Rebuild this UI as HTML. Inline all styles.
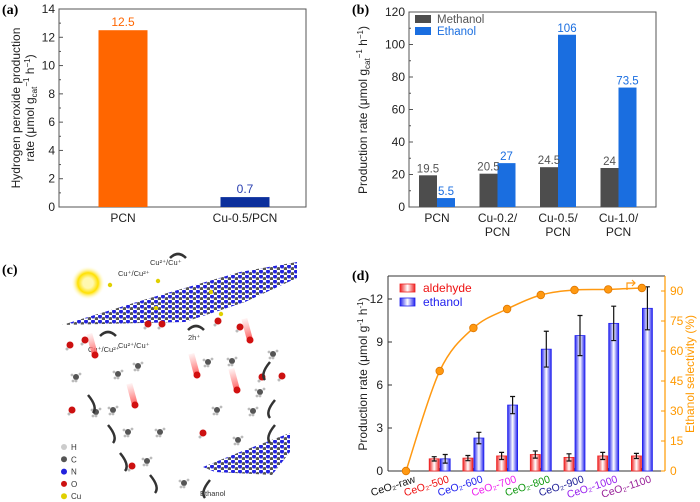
<!DOCTYPE html>
<html><head><meta charset="utf-8"><style>
body{margin:0;background:#fff;}
svg{display:block;font-family:"Liberation Sans",sans-serif;}
.pl{font-family:"Liberation Serif",serif;font-weight:bold;font-size:14px;}
</style></head><body>
<svg id="fig" width="700" height="502" viewBox="0 0 700 502" xmlns="http://www.w3.org/2000/svg">
<defs>
<linearGradient id="gr" x1="0" x2="1" y1="0" y2="0"><stop offset="0" stop-color="#ee2222"/><stop offset="0.5" stop-color="#fff"/><stop offset="1" stop-color="#ee2222"/></linearGradient>
<linearGradient id="gb" x1="0" x2="1" y1="0" y2="0"><stop offset="0" stop-color="#2222ee"/><stop offset="0.5" stop-color="#fff"/><stop offset="1" stop-color="#2222ee"/></linearGradient>
<radialGradient id="sun"><stop offset="0.3" stop-color="#fff8b0"/><stop offset="0.6" stop-color="#ffe000"/><stop offset="1" stop-color="#fff" stop-opacity="0"/></radialGradient>
<pattern id="sheet" width="7" height="5" patternUnits="userSpaceOnUse"><rect width="7" height="5" fill="#fff"/><circle cx="2" cy="1.5" r="2" fill="#2222dd"/><circle cx="5.5" cy="3.8" r="1.8" fill="#555"/></pattern>
<linearGradient id="beam" x1="0" x2="0" y1="0" y2="1"><stop offset="0" stop-color="#ff8a8a" stop-opacity="0.1"/><stop offset="1" stop-color="#ff6b6b"/></linearGradient>
</defs>
<g id="pa"></g>
<g id="pb"></g>
<g id="pc"></g>
<g id="pd"></g>
</svg>
<script>
// Panel A data
const aCats = ["PCN", "Cu-0.5/PCN"];
const aVals = [12.5, 0.7];
const aLabels = ["12.5", "0.7"];
const aTicks = [0, 2, 4, 6, 8, 10, 12, 14];
// Panel B data
const bCats = [["PCN"], ["Cu-0.2/", "PCN"], ["Cu-0.5/", "PCN"], ["Cu-1.0/", "PCN"]];
const bMethanol = [19.5, 20.5, 24.5, 24];
const bEthanol = [5.5, 27, 106, 73.5];
const bMethLabels = ["19.5", "20.5", "24.5", "24"];
const bEthLabels = ["5.5", "27", "106", "73.5"];
const bTicks = [0, 20, 40, 60, 80, 100, 120];
// Panel D data
const dCats = ["CeO₂-raw", "CeO₂-500", "CeO₂-600", "CeO₂-700", "CeO₂-800", "CeO₂-900", "CeO₂-1000", "CeO₂-1100"];
const dAldehyde = [0, 0.85, 0.9, 1.05, 1.15, 0.95, 1.05, 1.05];
const dAldErr = [0, 0.15, 0.18, 0.25, 0.25, 0.25, 0.25, 0.18];
const dEthanol = [0, 0.85, 2.3, 4.6, 8.5, 9.45, 10.3, 11.35];
const dEthErr = [0, 0.3, 0.4, 0.6, 1.25, 1.4, 1.2, 1.5];
const dSelect = [0, 50, 71.5, 81, 88, 90.5, 90.8, 91.5];
const dLeftTicks = [0, 3, 6, 9, 12];
const dRightTicks = [0, 15, 30, 45, 60, 75, 90];

const NS = "http://www.w3.org/2000/svg";
function mk(parent, tag, attrs, text) {
  const e = document.createElementNS(NS, tag);
  for (const k in attrs) e.setAttribute(k, attrs[k]);
  if (text !== undefined) e.textContent = text;
  parent.appendChild(e);
  return e;
}

// ---------- Panel A ----------
(function () {
  const g = document.getElementById('pa');
  const x0 = 59, x1 = 306, yTop = 9, yBot = 207;
  const y = v => yBot - v / 14 * (yBot - yTop);
  const cx = i => [123, 245][i];
  let t = mk(g, 'text', {x: 2, y: 14, class: 'pl'}, '(a)');
  
  
  const box = mk(g, 'rect', {x: x0, y: yTop, width: x1 - x0, height: yBot - yTop, fill: 'none', stroke: '#555', 'stroke-width': 1});
  
  
  for (let v = 0; v <= 14; v++) {
    mk(g, 'line', {x1: x0, x2: x0 + (v % 2 ? 2 : 4), y1: y(v), y2: y(v), stroke: '#555'});
  }
  aTicks.forEach(v => {
    const tl = mk(g, 'text', {x: x0 - 4, y: y(v) + 4, 'text-anchor': 'end', 'font-size': 12, fill: '#222'}, String(v));
    
    
  });
  const cols = ['#ff6600', '#0b2f9c'];
  aVals.forEach((v, i) => {
    const b = mk(g, 'rect', {x: cx(i) - 24.5, y: y(v), width: 49, height: yBot - y(v), fill: cols[i]});
    
    
    const vl = mk(g, 'text', {x: cx(i), y: y(v) - 4, 'text-anchor': 'middle', 'font-size': 12, fill: i ? '#2a3fb0' : '#ff6600'}, aLabels[i]);
    
    
    const xl = mk(g, 'text', {x: cx(i), y: 222, 'text-anchor': 'middle', 'font-size': 12, fill: '#222'}, aCats[i]);
    
    
  });
  const yt = mk(g, 'text', {transform: 'translate(20,108) rotate(-90)', 'text-anchor': 'middle', 'font-size': 12, fill: '#222'}, 'Hydrogen peroxide production');
  
  
  const yt2 = mk(g, 'text', {transform: 'translate(34,108) rotate(-90)', 'text-anchor': 'middle', 'font-size': 12, fill: '#222'});
  yt2.innerHTML = 'rate (μmol g<tspan font-size="8" dy="3">cat</tspan><tspan font-size="8" dy="-8">−1</tspan><tspan dy="5"> h</tspan><tspan font-size="8" dy="-4">−1</tspan><tspan dy="4">)</tspan>';
  
  
})();

// ---------- Panel B ----------
(function () {
  const g = document.getElementById('pb');
  const x0 = 409, x1 = 656, yTop = 12, yBot = 207;
  const y = v => yBot - v / 120 * (yBot - yTop);
  const cx = i => 437 + i * 60.5;
  const bw = 18;
  let t = mk(g, 'text', {x: 352, y: 14, class: 'pl'}, '(b)');
  
  
  const box = mk(g, 'rect', {x: x0, y: yTop, width: x1 - x0, height: yBot - yTop, fill: 'none', stroke: '#555'});
  
  
  for (let v = 0; v <= 120; v += 10) mk(g, 'line', {x1: x0, x2: x0 + (v % 20 ? 2 : 4), y1: y(v), y2: y(v), stroke: '#555'});
  bTicks.forEach(v => {
    const tl = mk(g, 'text', {x: x0 - 4, y: y(v) + 4, 'text-anchor': 'end', 'font-size': 12, fill: '#222'}, String(v));
    
    
  });
  bCats.forEach((c, i) => {
    const m = mk(g, 'rect', {x: cx(i) - bw, y: y(bMethanol[i]), width: bw, height: yBot - y(bMethanol[i]), fill: '#4d4d4d'});
    
    
    const e = mk(g, 'rect', {x: cx(i), y: y(bEthanol[i]), width: bw, height: yBot - y(bEthanol[i]), fill: '#1a6ee0'});
    
    
    const ml = mk(g, 'text', {x: cx(i) - bw / 2, y: y(bMethanol[i]) - 3, 'text-anchor': 'middle', 'font-size': 11.5, fill: '#555'}, bMethLabels[i]);
    
    
    const el = mk(g, 'text', {x: cx(i) + bw / 2, y: y(bEthanol[i]) - 3, 'text-anchor': 'middle', 'font-size': 11.5, fill: '#1a6ee0'}, bEthLabels[i]);
    
    
    c.forEach((line, k) => {
      const xl = mk(g, 'text', {x: cx(i), y: 222 + k * 14, 'text-anchor': 'middle', 'font-size': 12, fill: '#222'}, line);
      
      
    });
  });
  [['Methanol', '#4d4d4d', '#555'], ['Ethanol', '#1a6ee0', '#1a6ee0']].forEach((l, k) => {
    const sw = mk(g, 'rect', {x: 415, y: 15 + k * 12, width: 16, height: 8, fill: l[1]});
    
    
    const lt = mk(g, 'text', {x: 437, y: 23 + k * 12, 'font-size': 11.5, fill: l[2]}, l[0]);
    
    
  });
  const yt = mk(g, 'text', {transform: 'translate(367,110) rotate(-90)', 'text-anchor': 'middle', 'font-size': 12, fill: '#222'});
  yt.innerHTML = 'Production rate (μmol g<tspan font-size="8" dy="3">cat</tspan><tspan font-size="8" dy="-8">−1</tspan><tspan dy="5"> h</tspan><tspan font-size="8" dy="-4">−1</tspan><tspan dy="4">)</tspan>';
  
  
})();

// ---------- Panel C (scheme) ----------
(function () {
  const g = document.getElementById('pc');
  let t = mk(g, 'text', {x: 2, y: 274, class: 'pl'}, '(c)');
  
  
  const s = mk(g, 'circle', {cx: 88, cy: 283, r: 17, fill: 'url(#sun)'});
  
  
  const sh = mk(g, 'polygon', {points: '62,325 150,298 240,272 297,262 297,278 245,302 185,322', fill: 'url(#sheet)'});
  
  
  const sh2 = mk(g, 'polygon', {points: '203,467 240,452 290,433 290,452 272,475 215,472', fill: 'url(#sheet)'});
  
  
  [[110,285],[158,281],[211,292],[156,308],[221,314]].forEach(p => mk(g, 'circle', {cx: p[0], cy: p[1], r: 2.2, fill: '#e0d000'}));
  const labels = [[118,276,'Cu⁺/Cu²⁺'],[150,265,'Cu²⁺/Cu⁺'],[88,352,'Cu⁺/Cu²⁺'],[118,348,'Cu²⁺/Cu⁺'],[188,340,'2h⁺'],[200,496,'Ethanol']];
  labels.forEach(l => {
    const tx = mk(g, 'text', {x: l[0], y: l[1], 'font-size': 7.5, fill: '#333'}, l[2]);
    
    
  });
  [[95,355],[135,405],[197,375],[237,390],[250,340]].forEach(p => {
    mk(g, 'rect', {x: p[0] - 3, y: p[1] - 22, width: 6, height: 20, fill: 'url(#beam)', transform: `rotate(-15 ${p[0]} ${p[1]})`});
    mk(g, 'circle', {cx: p[0], cy: p[1], r: 3.5, fill: '#d21010'});
  });
  [[70,345],[85,340],[148,324],[162,324],[218,321],[240,327],[72,410],[203,433],[132,466],[262,377],[282,376]].forEach(p => {
    mk(g, 'circle', {cx: p[0], cy: p[1], r: 3.5, fill: '#cc1010'});
    mk(g, 'circle', {cx: p[0] - 3, cy: p[1] + 4, r: 1.5, fill: '#bbb'});
  });
  [[76,377],[118,374],[138,366],[96,412],[113,410],[128,432],[160,432],[147,461],[208,362],[232,361],[273,354],[260,392],[217,410],[253,411],[184,483],[238,440]].forEach(p => {
    mk(g, 'circle', {cx: p[0], cy: p[1], r: 3, fill: '#555'});
    [[-4,-2],[4,-3],[0,4],[-3,4]].forEach(d => mk(g, 'circle', {cx: p[0] + d[0], cy: p[1] + d[1], r: 1.4, fill: '#bbb'}));
  });
  [[88,395,20],[108,425,20],[120,453,20],[150,475,20],[270,362,-20],[275,400,-20],[275,425,-20],[210,480,-20],[100,336,0],[188,330,0],[170,258,0]].forEach(a => {
    const [x, y, dx] = a;
    const p = mk(g, 'path', {d: `M${x},${y} q${dx === 0 ? 8 : dx / 2},${dx === 0 ? -8 : 12} ${dx === 0 ? 16 : dx / 4},${dx === 0 ? 0 : 18}`, fill: 'none', stroke: '#333', 'stroke-width': 2.5});
    
    
  });
  [['H', '#ccc'], ['C', '#555'], ['N', '#2222dd'], ['O', '#cc1010'], ['Cu', '#e0d000']].forEach((l, k) => {
    const c = mk(g, 'circle', {cx: 64, cy: 447 + k * 12.3, r: 3, fill: l[1]});
    
    
    const tx = mk(g, 'text', {x: 71, y: 450 + k * 12.3, 'font-size': 8, fill: '#333'}, l[0]);
    
    
  });
})();

// ---------- Panel D ----------
(function () {
  const g = document.getElementById('pd');
  const x0 = 388, x1 = 665, yTop = 276, yBot = 471;
  const yL = v => yBot - v * (471 - 299) / 12;
  const yR = v => yBot - v * (471 - 291) / 90;
  const cx = i => 406 + i * 33.7;
  const bw = 10;
  let t = mk(g, 'text', {x: 352, y: 280, class: 'pl'}, '(d)');
  
  
  mk(g, 'line', {x1: x0, x2: x0, y1: yTop, y2: yBot, stroke: '#333'});
  mk(g, 'line', {x1: x0, x2: x1, y1: yBot, y2: yBot, stroke: '#333'});
  mk(g, 'line', {x1: x0, x2: x1, y1: yTop, y2: yTop, stroke: '#333'});
  mk(g, 'line', {x1: x1, x2: x1, y1: yTop, y2: yBot, stroke: '#ff9900', 'stroke-width': 1.2});
  dLeftTicks.forEach(v => {
    mk(g, 'line', {x1: x0, x2: x0 + 4, y1: yL(v), y2: yL(v), stroke: '#333'});
    const tl = mk(g, 'text', {x: x0 - 5, y: yL(v) + 4, 'text-anchor': 'end', 'font-size': 12, fill: '#222'}, String(v));
    
    
  });
  dRightTicks.forEach(v => {
    mk(g, 'line', {x1: x1, x2: x1 - 4, y1: yR(v), y2: yR(v), stroke: '#ff9900'});
    const tl = mk(g, 'text', {x: x1 + 5, y: yR(v) + 4, 'font-size': 12, fill: '#ff9900'}, String(v));
    
    
  });
  const catCols = ['#111', '#ee1111', '#2222ee', '#ee22ee', '#119911', '#222299', '#9922ee', '#992299'];
  dCats.forEach((c, i) => {
    mk(g, 'line', {x1: cx(i), x2: cx(i), y1: yBot, y2: yBot - 3, stroke: '#333'});
    if (dAldehyde[i] > 0) {
      const a = mk(g, 'rect', {x: cx(i) - bw - 0.5, y: yL(dAldehyde[i]), width: bw, height: yBot - yL(dAldehyde[i]), fill: 'url(#gr)', stroke: '#e22', 'stroke-width': 0.8});
      
      
      const ax = cx(i) - bw / 2 - 0.5;
      mk(g, 'path', {d: `M${ax},${yL(dAldehyde[i] - dAldErr[i])}V${yL(dAldehyde[i] + dAldErr[i])}M${ax - 2.5},${yL(dAldehyde[i] - dAldErr[i])}h5M${ax - 2.5},${yL(dAldehyde[i] + dAldErr[i])}h5`, stroke: '#111', 'stroke-width': 1.2, fill: 'none'});
    }
    if (dEthanol[i] > 0) {
      const e = mk(g, 'rect', {x: cx(i) + 0.5, y: yL(dEthanol[i]), width: bw, height: yBot - yL(dEthanol[i]), fill: 'url(#gb)', stroke: '#22e', 'stroke-width': 0.8});
      
      
      const ex = cx(i) + bw / 2 + 0.5;
      mk(g, 'path', {d: `M${ex},${yL(dEthanol[i] - dEthErr[i])}V${yL(dEthanol[i] + dEthErr[i])}M${ex - 2.5},${yL(dEthanol[i] - dEthErr[i])}h5M${ex - 2.5},${yL(dEthanol[i] + dEthErr[i])}h5`, stroke: '#111', 'stroke-width': 1.2, fill: 'none'});
    }
    const xl = mk(g, 'text', {x: cx(i) + 10, y: 482, 'text-anchor': 'end', 'font-size': 10.5, fill: catCols[i], transform: `rotate(-18 ${cx(i) + 10} 482)`}, c);
    
    
  });
  const pts = dSelect.map((v, i) => [cx(i), yR(v)]);
  let d = `M${pts[0][0]},${pts[0][1]}`;
  for (let i = 0; i < pts.length - 1; i++) {
    const p0 = pts[Math.max(0, i - 1)], p1 = pts[i], p2 = pts[i + 1], p3 = pts[Math.min(pts.length - 1, i + 2)];
    d += ` C${p1[0] + (p2[0] - p0[0]) / 6},${p1[1] + (p2[1] - p0[1]) / 6} ${p2[0] - (p3[0] - p1[0]) / 6},${p2[1] - (p3[1] - p1[1]) / 6} ${p2[0]},${p2[1]}`;
  }
  const ln = mk(g, 'path', {d: d, fill: 'none', stroke: '#ff9911', 'stroke-width': 1.5});
  
  
  pts.forEach(p => {
    const c = mk(g, 'circle', {cx: p[0], cy: p[1], r: 3.8, fill: '#ff9911', stroke: '#e07800', 'stroke-width': 0.8});
    
    
  });
  const ar = mk(g, 'path', {d: 'M627,290 v-7 h8 m-3,-3 l3,3 l-3,3', fill: 'none', stroke: '#ff9911', 'stroke-width': 1.2});
  
  
  [['aldehyde', 'url(#gr)', '#e22', '#ee1111'], ['ethanol', 'url(#gb)', '#22e', '#2222ee']].forEach((l, k) => {
    const sw = mk(g, 'rect', {x: 400, y: 284 + k * 14, width: 15, height: 8, fill: l[1], stroke: l[2], 'stroke-width': 0.8});
    
    
    const lt = mk(g, 'text', {x: 423, y: 292 + k * 14, 'font-size': 12, fill: l[3]}, l[0]);
    
    
  });
  const yt = mk(g, 'text', {transform: 'translate(367,374) rotate(-90)', 'text-anchor': 'middle', 'font-size': 12, fill: '#222'});
  yt.innerHTML = 'Production rate (μmol g<tspan font-size="8" dy="-4">-1</tspan><tspan dy="4"> h</tspan><tspan font-size="8" dy="-4">-1</tspan><tspan dy="4">)</tspan>';
  
  
  const yt2 = mk(g, 'text', {transform: 'translate(694,374) rotate(-90)', 'text-anchor': 'middle', 'font-size': 12, fill: '#ff9900'}, 'Ethanol selectivity (%)');
  
  
})();
</script>
</body></html>
